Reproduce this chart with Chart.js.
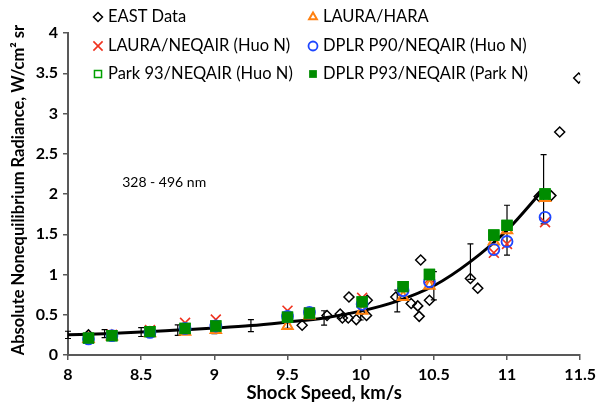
<!DOCTYPE html>
<html>
<head>
<meta charset="utf-8">
<script src="https://cdn.jsdelivr.net/npm/chart.js@4.4.1/dist/chart.umd.min.js"></script>
<style>
  html, body { margin: 0; padding: 0; background: #fff; }
  #wrap { width: 601px; height: 405px; position: relative; }
</style>
</head>
<body>
<div id="wrap"><canvas id="chart1"></canvas></div>
<script>
// EAST shock tube data
var eastX = [8.14, 9.6, 9.77, 9.86, 9.875, 9.915, 9.92, 9.97, 10.04, 10.045, 10.24, 10.345, 10.39, 10.4, 10.41, 10.47, 10.75, 10.8, 11.22, 11.3, 11.36, 11.49];
var eastY = [0.25, 0.37, 0.49, 0.51, 0.46, 0.46, 0.72, 0.44, 0.49, 0.68, 0.72, 0.64, 0.61, 0.48, 1.18, 0.68, 0.95, 0.83, 1.97, 1.98, 2.77, 3.44];

// simulations
var caseX = [8.14, 8.3, 8.56, 8.8, 9.01, 9.5, 9.65, 10.01, 10.29, 10.47, 10.91, 11.0, 11.26];
var lauraHara = [0.2, 0.23, 0.27, 0.29, 0.31, 0.36, 0.49, 0.55, 0.72, 0.86, 1.41, 1.55, 1.95];
var lauraNeqair = [0.21, 0.25, 0.31, 0.4, 0.44, 0.55, 0.53, 0.71, 0.84, 0.95, 1.27, 1.38, 1.65];
var dplrP90 = [0.2, 0.24, 0.28, 0.33, 0.36, 0.48, 0.53, 0.63, 0.8, 0.91, 1.31, 1.41, 1.71];
var park93 = [0.21, 0.24, 0.29, 0.33, 0.36, 0.47, 0.52, 0.66, 0.85, 1.0, 1.49, 1.61, 2.0];
var dplrP93 = [0.21, 0.24, 0.29, 0.33, 0.36, 0.47, 0.52, 0.66, 0.85, 1.0, 1.49, 1.61, 2.0];

// curve fit through EAST data with uncertainty
var fitX = [8, 8.25, 8.5, 8.75, 9, 9.25, 9.5, 9.75, 10, 10.25, 10.5, 10.75, 11, 11.25];
var fitY = [0.25, 0.265, 0.285, 0.31, 0.335, 0.365, 0.41, 0.46, 0.545, 0.67, 0.86, 1.16, 1.55, 2.06];
var fitErr = [0.045, 0.05, 0.055, 0.065, 0.07, 0.075, 0.08, 0.09, 0.11, 0.135, 0.175, 0.22, 0.31, 0.43];

var xTicks = [8, 8.5, 9, 9.5, 10, 10.5, 11, 11.5];
var yTicks = [0, 0.5, 1, 1.5, 2, 2.5, 3, 3.5, 4];

function pts(xs, ys) {
    return xs.map(function(x, i) { return {x: x, y: ys[i]}; });
}

var FONT = 'Lato';

var series = [
    {label: 'EAST Data', data: pts(eastX, eastY), pointStyle: 'rectRot', pointRadius: 5, legendRadius: 4.5, borderColor: '#000', backgroundColor: 'rgba(255,255,255,0)', pointBorderWidth: 1.5, order: 7},
    {label: 'LAURA/HARA', data: pts(caseX, lauraHara), pointStyle: 'triangle', pointRadius: 6, legendRadius: 4.5, borderColor: 'rgb(255,128,16)', backgroundColor: 'rgba(255,255,255,0)', pointBorderWidth: 2, order: 4},
    {label: 'LAURA/NEQAIR (Huo N)', data: pts(caseX, lauraNeqair), pointStyle: 'crossRot', pointRadius: 7, legendRadius: 6.5, borderColor: 'rgb(240,50,30)', backgroundColor: 'rgba(255,255,255,0)', pointBorderWidth: 1.6, order: 5},
    {label: 'DPLR P90/NEQAIR (Huo N)', data: pts(caseX, dplrP90), pointStyle: 'circle', pointRadius: 5.5, legendRadius: 4.5, borderColor: 'rgb(30,70,255)', backgroundColor: 'rgba(255,255,255,0)', pointBorderWidth: 1.8, order: 2},
    {label: 'Park 93/NEQAIR (Huo N)', data: pts(caseX, park93), pointStyle: 'rect', pointRadius: 7, legendRadius: 5, borderColor: 'rgb(0,160,0)', backgroundColor: 'rgba(255,255,255,0)', pointBorderWidth: 1.5, order: 3},
    {label: 'DPLR P93/NEQAIR (Park N)', data: pts(caseX, dplrP93), pointStyle: 'rect', pointRadius: 8, legendRadius: 5.5, borderColor: 'rgb(0,140,0)', backgroundColor: 'rgb(0,140,0)', pointBorderWidth: 0, order: 1}
];

var datasets = series.map(function(s) {
    return {
        label: s.label, data: s.data, showLine: false,
        pointStyle: s.pointStyle, pointRadius: s.pointRadius, pointHoverRadius: s.pointRadius,
        pointBorderColor: s.borderColor, pointBackgroundColor: s.backgroundColor,
        borderColor: s.borderColor, backgroundColor: s.backgroundColor,
        pointBorderWidth: s.pointBorderWidth, order: s.order
    };
});
datasets.push({
    label: 'fit', data: pts(fitX, fitY), showLine: true, borderColor: '#000', borderWidth: 3,
    pointRadius: 0, tension: 0.4, cubicInterpolationMode: 'monotone', order: 6
});
var FIT_INDEX = datasets.length - 1;

// error bars on the fit curve
var errorBars = {
    id: 'errorBars',
    afterDatasetDraw: function(chart, args) {
        if (args.index !== FIT_INDEX) return;
        var ctx = chart.ctx, xs = chart.scales.x, ys = chart.scales.y;
        ctx.save();
        ctx.strokeStyle = '#000';
        ctx.lineWidth = 1.2;
        for (var i = 0; i < fitX.length; i++) {
            var px = xs.getPixelForValue(fitX[i]);
            var top = ys.getPixelForValue(fitY[i] + fitErr[i]);
            var bot = ys.getPixelForValue(fitY[i] - fitErr[i]);
            ctx.beginPath();
            ctx.moveTo(px, top); ctx.lineTo(px, bot);
            ctx.moveTo(px - 3, top); ctx.lineTo(px + 3, top);
            ctx.moveTo(px - 3, bot); ctx.lineTo(px + 3, bot);
            ctx.stroke();
        }
        ctx.restore();
    }
};

// two-column legend, y title and wavelength note
var legendCols = [[0, 2, 4], [1, 3, 5]];
var extras = {
    id: 'extras',
    afterDraw: function(chart) {
        var ctx = chart.ctx;
        ctx.save();
        ctx.font = '16.5px ' + FONT;
        ctx.textBaseline = 'middle';
        ctx.textAlign = 'left';
        var colX = [98, 313];
        var rowY = [17, 46, 74];
        legendCols.forEach(function(col, c) {
            col.forEach(function(idx, r) {
                var s = series[idx];
                ctx.strokeStyle = s.borderColor;
                ctx.fillStyle = s.backgroundColor;
                ctx.lineWidth = s.pointBorderWidth || 1;
                Chart.helpers.drawPoint(ctx, {pointStyle: s.pointStyle, radius: s.legendRadius, rotation: 0, borderWidth: s.pointBorderWidth}, colX[c], rowY[r]);
                ctx.fillStyle = '#000';
                ctx.fillText(s.label, colX[c] + 10, rowY[r]);
            });
        });
        ctx.font = '14px ' + FONT;
        ctx.fillStyle = '#000';
        ctx.fillText('328 - 496 nm', chart.scales.x.getPixelForValue(8.37), chart.scales.y.getPixelForValue(2.14));

        ctx.translate(24, 190);
        ctx.rotate(-Math.PI / 2);
        ctx.font = 'bold 16.5px ' + FONT;
        ctx.textAlign = 'center';
        ctx.textBaseline = 'alphabetic';
        ctx.fillText('Absolute Nonequilibrium Radiance, W/cm² sr', 0, 0);
        ctx.restore();
    }
};

function fmt(v) { return String(v); }

var ctx = document.getElementById('chart1').getContext('2d');
var myChart = new Chart(ctx, {
    type: 'scatter',
    data: {datasets: datasets},
    plugins: [errorBars, extras],
    options: {
        responsive: true,
        maintainAspectRatio: false,
        animation: false,
        layout: {padding: {top: 33, right: 17, left: 0, bottom: 0}},
        plugins: {legend: {display: false}, tooltip: {enabled: false}},
        scales: {
            x: {
                type: 'linear', min: 8, max: 11.5,
                afterBuildTicks: function(scale) { scale.ticks = xTicks.map(function(v) { return {value: v}; }); },
                afterFit: function(scale) { scale.height = 50; },
                grid: {drawOnChartArea: false, drawTicks: true, tickLength: 5, color: '#595959', lineWidth: 1.5},
                border: {display: true, color: '#595959', width: 2},
                ticks: {color: '#000', padding: 5, callback: fmt, font: {family: FONT, size: 16, weight: 'bold'}},
                title: {display: true, text: 'Shock Speed, km/s', color: '#000', padding: {top: 0, bottom: 1}, font: {family: FONT, size: 18.5, weight: 'bold'}}
            },
            y: {
                type: 'linear', min: 0, max: 4,
                afterBuildTicks: function(scale) { scale.ticks = yTicks.map(function(v) { return {value: v}; }); },
                afterFit: function(scale) { scale.width = 68; },
                grid: {drawOnChartArea: false, drawTicks: true, tickLength: 5, color: '#595959', lineWidth: 1.5},
                border: {display: true, color: '#595959', width: 2},
                ticks: {color: '#000', padding: 5, callback: fmt, font: {family: FONT, size: 16, weight: 'bold'}},
                title: {display: false}
            }
        }
    }
});
</script>
</body>
</html>
